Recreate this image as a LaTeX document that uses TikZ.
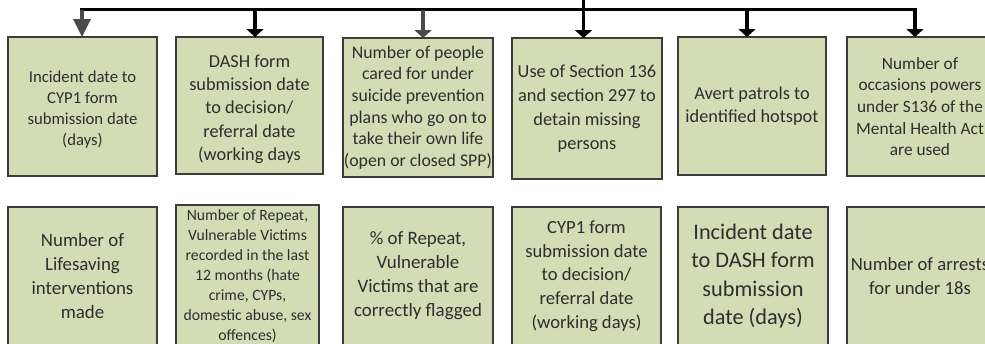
\documentclass[tikz,border=0pt]{standalone}
\usepackage{fontspec}
\setmainfont{Carlito}
\usetikzlibrary{arrows.meta,calc}
\definecolor{boxfill}{HTML}{D3DCB4}
\definecolor{boxline}{HTML}{3C3C3C}
\definecolor{txt}{HTML}{2E2E2E}
\definecolor{greyarrow}{HTML}{4A4A4A}
\newcommand\fsz[2]{\fontsize{#1}{#2}\selectfont}
\begin{document}
\begin{tikzpicture}[x=1pt,y=-1pt,
  kpibox/.style={draw=boxline,line width=1.6pt,fill=boxfill,text=txt,
    align=center,inner sep=0pt,outer sep=0pt},
  kpitext/.style={text=txt,align=center,inner sep=0pt},
  busline/.style={line width=3.5pt,black},
  stemline/.style={line width=3.5pt,black,-{Triangle[width=17pt,length=8pt]}},
  greystem/.style={stemline,greyarrow},
]
\clip (0,0) rectangle (985,343);
\fill[white] (0,0) rectangle (985,343);
% top row
\node[kpibox,minimum width=149,minimum height=139] (t1) at (82.5,106.5) {};
\node[kpitext,font=\fsz{16.7}{21}] (t1txt) at ([yshift=-3pt]t1.center)
  {Incident date to\\CYP1 form\\submission date\\(days)};
\node[kpibox,minimum width=147,minimum height=137] (t2) at (249.5,105.5) {};
\node[kpitext,font=\fsz{18.3}{23.3}] (t2txt) at ([yshift=-3.5pt]t2.center)
  {DASH form\\submission date\\to decision/\\referral date\\(working days};
\node[kpibox,minimum width=150,minimum height=139,font=\fsz{17.8}{21.6}] (t3) at (418,107.5)
  {Number of people\\cared for under\\suicide prevention\\plans who go on to\\take their own life\\(open or closed SPP)};
\node[kpibox,minimum width=150,minimum height=141,font=\fsz{18.35}{24}] (t4) at (587,108.5)
  {Use of Section 136\\and section 297 to\\detain missing\\persons};
\node[kpibox,minimum width=148,minimum height=138,font=\fsz{18.3}{23.3}] (t5) at (752,106)
  {Avert patrols to\\identified hotspot};
\node[kpibox,minimum width=146,minimum height=139,font=\fsz{17.3}{21.7}] (t6) at (920,106.5)
  {Number of\\occasions powers\\under S136 of the\\Mental Health Act\\are used};
% bottom row
\node[kpibox,minimum width=149,minimum height=138,font=\fsz{18.9}{24}] (b1) at (82.5,276)
  {Number of\\Lifesaving\\interventions\\made};
\node[kpibox,minimum width=143,minimum height=142,font=\fsz{15.7}{20}] (b2) at (247.5,276)
  {Number of Repeat,\\Vulnerable Victims\\recorded in the last\\12 months (hate\\crime, CYPs,\\domestic abuse, sex\\offences)};
\node[kpibox,minimum width=150,minimum height=138,font=\fsz{18.9}{24}] (b3) at (418,276)
  {\% of Repeat,\\Vulnerable\\Victims that are\\correctly flagged};
\node[kpibox,minimum width=149,minimum height=138,font=\fsz{18.6}{23.7}] (b4) at (586.5,276)
  {CYP1 form\\submission date\\to decision/\\referral date\\(working days)};
\node[kpibox,minimum width=150,minimum height=138,font=\fsz{22.3}{28.3}] (b5) at (753,276)
  {Incident date\\to DASH form\\submission\\date (days)};
\node[kpibox,minimum width=146,minimum height=138,font=\fsz{18.7}{24}] (b6) at (920,276)
  {Number of arrests\\for under 18s};
% connectors
\coordinate (root) at (583.5,0);
\coordinate (jn) at (583.5,9.5);
\coordinate (a1) at ([xshift=-0.5]t1.north);
\coordinate (a2) at ([xshift=5.5]t2.north);
\coordinate (a3) at ([xshift=5]t3.north);
\coordinate (a4) at ([xshift=-3.5]t4.north);
\coordinate (a5) at ([xshift=-5]t5.north);
\coordinate (a6) at ([xshift=-5]t6.north);
\draw[busline] (root) -- (jn);
\draw[busline,line cap=rect] (a1|-jn) -- (a6|-jn);
\draw[greystem,-{Triangle[width=17pt,length=18pt]}] (a1|-jn) -- (a1);
\draw[stemline] (a2|-jn) -- (a2);
\draw[greystem] (a3|-jn) -- (a3);
\draw[stemline] (jn) -- (a4);
\draw[stemline] (a5|-jn) -- (a5);
\draw[stemline] (a6|-jn) -- (a6);
\end{tikzpicture}
\end{document}
